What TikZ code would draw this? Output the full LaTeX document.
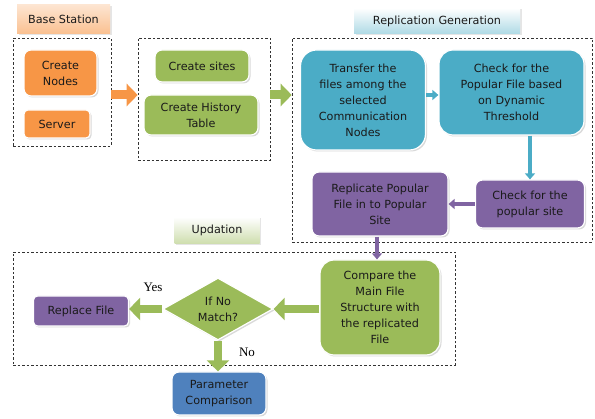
\documentclass[tikz,border=0pt]{standalone}
\usepackage{fontspec}
\setmainfont{DejaVu Sans}
\newfontfamily\yesnofont{Liberation Serif}
\usetikzlibrary{shapes.geometric,arrows.meta,shadows,positioning}
\definecolor{cOrange}{HTML}{F79646}
\definecolor{cGreen}{HTML}{9BBB59}
\definecolor{cTeal}{HTML}{4BACC6}
\definecolor{cPurple}{HTML}{8064A2}
\definecolor{cBlue}{HTML}{4F81BD}
\definecolor{cText}{HTML}{1A1A1A}
\tikzset{
  box/.style={rounded corners=7pt, draw=white, line width=1.2pt, align=center,
    text=cText, font=\fontsize{11.2}{16}\selectfont, inner sep=1pt,
    drop shadow={shadow xshift=1.5pt, shadow yshift=-1.5pt, fill=black!25, opacity=0.6}},
  obox/.style={box, fill=cOrange},
  gbox/.style={box, fill=cGreen},
  tbox/.style={box, fill=cTeal},
  pbox/.style={box, fill=cPurple},
  bbox/.style={box, fill=cBlue},
  lbl/.style={draw=none, align=center, text=cText, font=\fontsize{11.2}{13}\selectfont,
    drop shadow={shadow xshift=1.5pt, shadow yshift=-1.5pt, fill=black!20}},
  group/.style={draw=black!80, dashed, dash pattern=on 2.5pt off 2pt, line width=0.6pt, inner sep=0pt},
  bigarrow/.style={line width=8pt, -{Triangle[width=22pt,length=11pt]}, shorten >=0pt},
  thinarrow/.style={line width=3.5pt, -{Triangle[width=10pt,length=6pt]}},
  yn/.style={font=\yesnofont\fontsize{13}{14}\selectfont, text=black},
}
\begin{document}
\begin{tikzpicture}[x=1pt,y=-1pt]
\useasboundingbox (0,0) rectangle (595,419);

% group frames
\node[group, minimum width=98, minimum height=108] (g1) at (62,92) {};
\node[group, minimum width=132, minimum height=122] (g2) at (204,99) {};
\node[group, minimum width=300, minimum height=204] (g3) at (442,140) {};
\node[group, minimum width=442, minimum height=113] (g4) at (234,308.5) {};

% title labels
\node[lbl, top color=cOrange!25, bottom color=cOrange!60, minimum width=93, minimum height=29] (bs) at (63.5,19.5) {Base Station};
\node[lbl, top color=white, bottom color=cTeal!45, minimum width=166, minimum height=26] (rg) at (437,21) {Replication Generation};
\node[lbl, top color=white, bottom color=cGreen!50, minimum width=85, minimum height=27] (up) at (217,230.5) {Updation};

% boxes
\node[obox, minimum width=73, minimum height=46] (cn) at (60.5,73) {Create\\Nodes};
\node[obox, minimum width=66, minimum height=28, rounded corners=4pt] (sv) at (57,124) {Server};
\node[gbox, minimum width=94, minimum height=32] (cs) at (202,66) {Create sites};
\node[gbox, minimum width=114, minimum height=40] (ht) at (201,115) {Create History\\Table};
\node[tbox, minimum width=125, minimum height=100, rounded corners=16pt] (tr) at (363,100) {Transfer the\\files among the\\selected\\Communication\\Nodes};
\node[tbox, minimum width=145, minimum height=85, rounded corners=14pt] (cf) at (511.5,92.5) {Check for the\\Popular File based\\on Dynamic\\Threshold};
\node[pbox, minimum width=109, minimum height=48] (cp) at (530,204) {Check for the\\popular site};
\node[pbox, minimum width=136, minimum height=64] (rp) at (380,204) {Replicate Popular\\File in to Popular\\Site};
\node[gbox, minimum width=120, minimum height=95, rounded corners=14pt] (cm) at (380,307.5) {Compare the\\Main File\\Structure with\\the replicated\\File};
\node[diamond, fill=cGreen, draw=white, line width=1.2pt, aspect=1.77, minimum width=110, minimum height=62, inner sep=0pt,
  align=center, text=cText, font=\fontsize{11.2}{16}\selectfont,
  drop shadow={shadow xshift=1.5pt, shadow yshift=-1.5pt, fill=black!25, opacity=0.6}] (dm) at (218,309) {If No\\Match?};
\node[pbox, minimum width=95, minimum height=30, rounded corners=4pt] (rf) at (81,311) {Replace File};
\node[bbox, minimum width=94, minimum height=43] (pc) at (219,393.5) {Parameter\\Comparison};

% connectors
\coordinate (row) at (0,95);
\draw[bigarrow, cOrange, line width=9pt] (g1.east |- row) -- (g2.west |- row);
\draw[bigarrow, cGreen, line width=9pt] (g2.east |- row) -- (g3.west |- row);
\draw[thinarrow, cTeal] (tr.east |- row) -- (cf.west |- row);
\draw[thinarrow, cTeal] (cf.south -| cp.north) -- (cp.north);
\draw[thinarrow, cPurple] (cp.west) -- (rp.east);
\draw[thinarrow, cPurple] ([xshift=-3pt]rp.south) -- ([xshift=-3pt]rp.south |- cm.north);
\draw[bigarrow, cGreen] (cm.west |- dm) -- (dm.east);
\draw[bigarrow, cGreen] (dm.west) -- (rf.east |- dm);
\draw[bigarrow, cGreen] (dm.south) -- (dm.south |- pc.north);

\node[yn] (yes) at (153,287) {Yes};
\node[yn] (no) at (247,352) {No};
\end{tikzpicture}
\end{document}
